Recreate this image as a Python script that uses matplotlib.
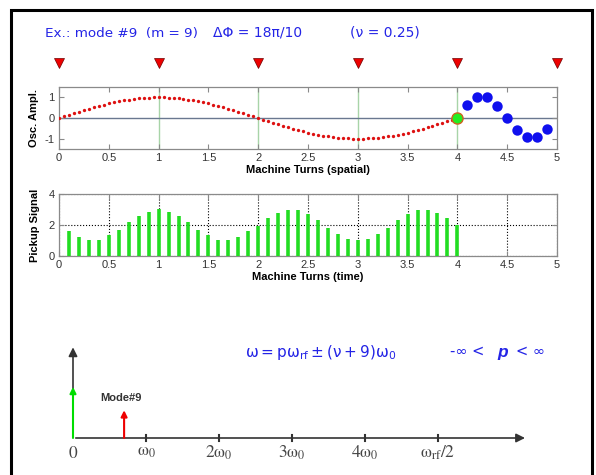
import numpy as np
import matplotlib.pyplot as plt
from matplotlib.patches import Rectangle

plt.rcParams['font.family'] = ['Liberation Sans', 'DejaVu Sans']
plt.rcParams['mathtext.fontset'] = 'stix'
plt.rcParams['axes.unicode_minus'] = False

# pickup positions (one per turn)
bpm_x = [0, 1, 2, 3, 4, 5]

# oscillation amplitude along the ring, dots every 0.05 turn
spatial_x = np.linspace(0, 4, 81)
spatial_amp = [0, .08, .16, .23, .31, .38, .45, .52, .59, .65, .71, .76, .81, .85, .89, .92, .95, .97, .99, 1.0, 1.0,
               1.0, .99, .97, .95, .92, .89, .85, .81, .76, .71, .65, .59, .52, .45, .38, .31, .23, .16, .08, 0,
               -.08, -.16, -.23, -.31, -.38, -.45, -.52, -.59, -.65, -.71, -.76, -.81, -.85, -.89, -.92, -.95, -.97, -.99, -1.0, -1.0,
               -1.0, -.99, -.97, -.95, -.92, -.89, -.85, -.81, -.76, -.71, -.65, -.59, -.52, -.45, -.38, -.31, -.23, -.16, -.08, 0]

# bunch positions of the mode pattern
bunch_x = [4.1, 4.2, 4.3, 4.4, 4.5, 4.6, 4.7, 4.8, 4.9]
bunch_amp = [0.63, 1.0, 1.0, 0.59, 0.0, -0.59, -0.93, -0.93, -0.54]
ref_x, ref_amp = 4.0, 0.0

# pickup signal vs time
pickup_x = np.round(np.arange(1, 41) * 0.1, 1)
pickup_amp = [1.60, 1.22, 1.01, 1.05, 1.33, 1.68, 2.19, 2.61, 2.86, 3.01,
              2.86, 2.61, 2.19, 1.68, 1.33, 1.05, 1.01, 1.22, 1.60, 1.96,
              2.44, 2.80, 3.00, 2.95, 2.70, 2.34, 1.81, 1.43, 1.12, 1.01,
              1.12, 1.43, 1.81, 2.34, 2.70, 2.95, 3.00, 2.80, 2.44, 2.00]

# spectrum sketch (in units of w0)
spec_ticks = [1, 2, 3, 4, 5]
spec_labels = [r'$\mathrm{\omega}_0$', r'$2\mathrm{\omega}_0$', r'$3\mathrm{\omega}_0$',
               r'$4\mathrm{\omega}_0$', r'$\mathrm{\omega}_{\mathrm{rf}}/2$']
line_freq = [0, 0.7]
line_height = [0.70, 0.38]
line_colors = ['#00dd00', '#ee0000']

W, H = 596, 475
blue = '#2424e6'


def box(l, t, r, b):
    return [l / W, 1 - b / H, (r - l) / W, (b - t) / H]


fig = plt.figure(figsize=(W / 100, H / 100), dpi=100)

# outer frame
fig.add_artist(Rectangle((10.5 / W, -0.1), (591.5 - 10.5) / W, 1 - 10 / H + 0.1,
                         transform=fig.transFigure, fill=False, lw=2.2, ec='black'))

fig.text(45 / W, 1 - 33 / H, 'Ex.: mode #9  (m = 9)', color=blue, fontsize=9.7,
         family='DejaVu Sans', va='center')
fig.text(213 / W, 1 - 33 / H, 'ΔΦ = 18π/10', color=blue, fontsize=10,
         family='DejaVu Sans', va='center')
fig.text(350 / W, 1 - 33 / H, '(ν = 0.25)', color=blue, fontsize=10,
         family='DejaVu Sans', va='center')


def matlab_axes(ax):
    for s in ax.spines.values():
        s.set_color('#8a8a8a')
        s.set_linewidth(0.9)
    ax.tick_params(direction='in', length=3.5, color='#8a8a8a', labelsize=8,
                   labelcolor='#333333', top=True, right=True, pad=3)
    ax.set_xlim(0, 5)
    ax.set_xticks(np.arange(0, 5.01, 0.5))
    ax.set_xticklabels(['0', '0.5', '1', '1.5', '2', '2.5', '3', '3.5', '4', '4.5', '5'])


# --- spatial picture
ax1 = fig.add_axes(box(59, 87, 557, 149))
matlab_axes(ax1)
ax1.set_ylim(-1.5, 1.5)
ax1.set_yticks([-1, 0, 1])
for xv in [1, 2, 3, 4]:
    ax1.axvline(xv, color='#a8d4a8', lw=1, zorder=1)
ax1.axhline(0, color='#6a7890', lw=1, zorder=1)
ax1.plot(spatial_x, spatial_amp, 'o', color='#dd1111', ms=2.4, mew=0, zorder=3)
ax1.plot(bunch_x, bunch_amp, 'o', color='#1010ee', ms=7.5, mew=0, zorder=4)
ax1.plot(ref_x, ref_amp, 'o', color='#22ee22', mec='#d06020', mew=1, ms=8, zorder=5)
ax1.plot(bpm_x, [1.39] * len(bpm_x), 'v', color='#ee0000', mec='#700000', mew=0.5, ms=7.5,
         transform=ax1.get_xaxis_transform(), clip_on=False)
ax1.set_xlabel('Machine Turns (spatial)', fontsize=8, fontweight='bold', labelpad=1)
ax1.set_ylabel('Osc. Ampl.', fontsize=8, fontweight='bold', labelpad=4)

# --- pickup signal
ax2 = fig.add_axes(box(59, 194, 557, 256))
matlab_axes(ax2)
ax2.set_ylim(0, 4)
ax2.set_yticks([0, 2, 4])
ax2.grid(True, ls=':', color='black', lw=0.8)
ax2.set_axisbelow(True)
ax2.vlines(pickup_x, 0, pickup_amp, color='#22dd22', lw=2.6, zorder=3)
ax2.set_xlabel('Machine Turns (time)', fontsize=8, fontweight='bold', labelpad=1)
ax2.set_ylabel('Pickup Signal', fontsize=8, fontweight='bold', labelpad=6)

# --- spectrum sketch
ax3 = fig.add_axes([0, 0, 1, 1], zorder=-1)
ax3.axis('off')
ax3.set_xlim(-73 / 73, (W - 73) / 73)
ax3.set_ylim(-(H - 438) / 73, 438 / 73)
ax3.annotate('', xy=(6.23, 0), xytext=(0, 0),
             arrowprops=dict(arrowstyle='-|>', color='#333333', lw=1.2, mutation_scale=13))
ax3.annotate('', xy=(0, 1.28), xytext=(0, 0),
             arrowprops=dict(arrowstyle='-|>', color='#333333', lw=1.2, mutation_scale=13))
for f, h, c in zip(line_freq, line_height, line_colors):
    ax3.annotate('', xy=(f, h), xytext=(f, 0),
                 arrowprops=dict(arrowstyle='-|>', color=c, lw=1.5, mutation_scale=9,
                                 shrinkA=0, shrinkB=0))
for t, lab in zip(spec_ticks, spec_labels):
    ax3.plot([t, t], [-0.045, 0.045], color='#333333', lw=1.5)
    ax3.text(t, -0.2, lab, ha='center', va='center', fontsize=12.5, color='#444444')
ax3.text(0, -0.2, '$0$', ha='center', va='center', fontsize=12.5, color='#444444')
ax3.text((100 - 73) / 73, (438 - 398) / 73, 'Mode#9', fontsize=8, fontweight='bold',
         color='#333333', va='center')

fig.text(245 / W, 1 - 352 / H,
         r'$\mathrm{\omega = p\omega_{rf} \pm (\nu+9)\omega_0}$',
         color=blue, fontsize=11, va='center', math_fontfamily='dejavusans')
fig.text(450 / W, 1 - 352 / H, '-∞ <', color=blue, fontsize=10.5, va='center', family='DejaVu Sans')
fig.text(497 / W, 1 - 352 / H, 'p', color=blue, fontsize=12.5, va='center',
         fontweight='bold', fontstyle='italic')
fig.text(516 / W, 1 - 352 / H, '< ∞', color=blue, fontsize=10.5, va='center', family='DejaVu Sans')

fig.savefig('out.png', dpi=100)
